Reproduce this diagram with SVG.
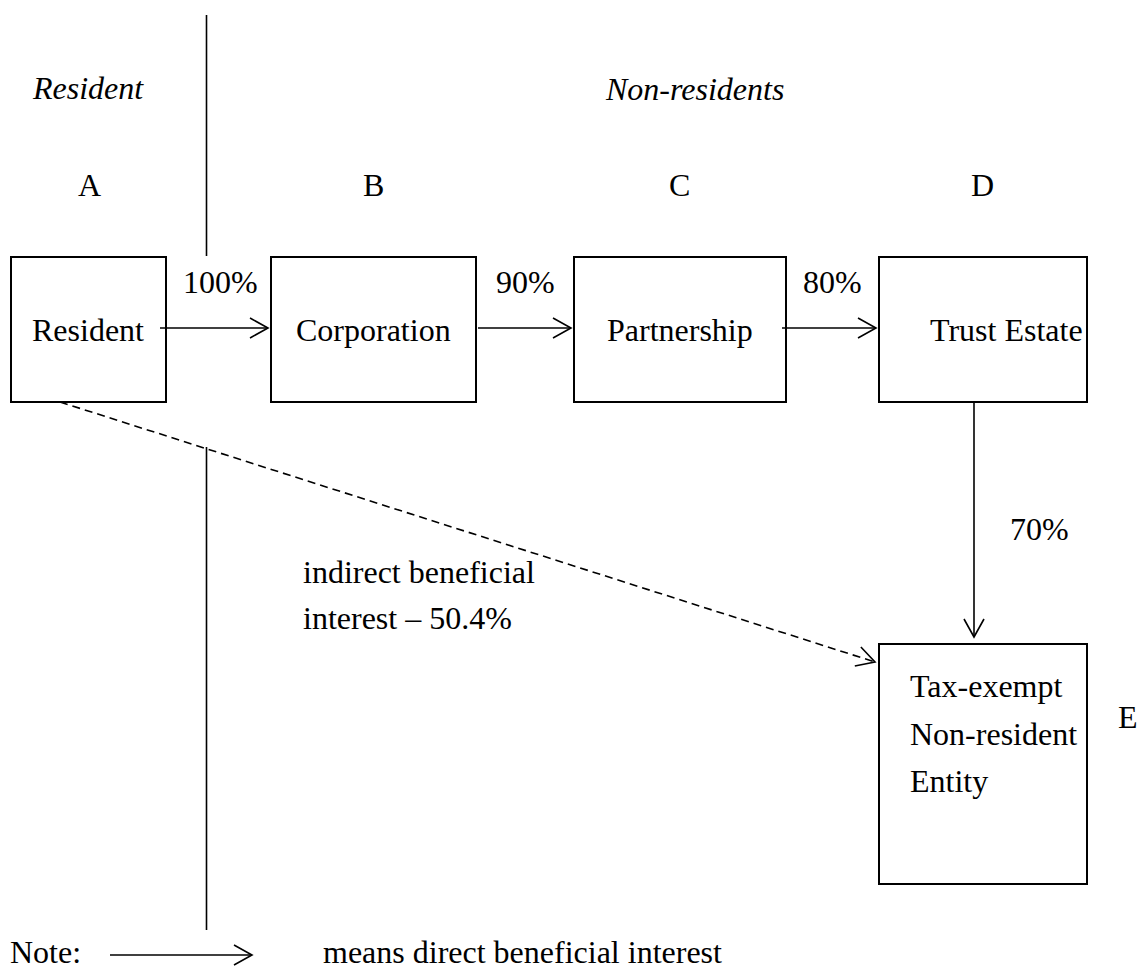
<svg xmlns="http://www.w3.org/2000/svg" width="1138" height="971" viewBox="0 0 1138 971">
<style>
text{font-family:"Liberation Serif","Times New Roman",serif;font-size:32px;fill:#000}
.it{font-style:italic}
.box{fill:#fff;stroke:#000;stroke-width:2}
.ln{stroke:#000;stroke-width:1.6;fill:none}
.dash{stroke-dasharray:8 5}
</style>
<defs>
<marker id="ah" viewBox="-20 -12 22 24" refX="0" refY="0" markerWidth="22" markerHeight="24" markerUnits="userSpaceOnUse" orient="auto">
<path d="M-18,-10 L0,0 L-18,10" fill="none" stroke="#000" stroke-width="1.6" stroke-dasharray="none"/>
</marker>
</defs>
<rect width="1138" height="971" fill="#fff"/>
<g id="labels">
<text class="it" x="33" y="99">Resident</text>
<text class="it" x="606" y="100">Non-residents</text>
<text x="78" y="196">A</text>
<text x="363" y="196">B</text>
<text x="669" y="196">C</text>
<text x="971" y="196">D</text>
<text x="1118" y="728">E</text>
<text x="303" y="583">indirect beneficial</text>
<text x="303" y="629">interest – 50.4%</text>
<text x="183" y="293">100%</text>
<text x="496" y="293">90%</text>
<text x="803" y="293">80%</text>
<text x="1010" y="540">70%</text>
</g>
<g id="divider">
<line class="ln" x1="206.5" y1="15" x2="206.5" y2="256"/>
<line class="ln" x1="206.5" y1="447" x2="206.5" y2="930"/>
</g>
<g id="nodeA"><rect class="box" x="11" y="257" width="155" height="145"/><text x="32" y="341">Resident</text></g>
<g id="nodeB"><rect class="box" x="271" y="257" width="205" height="145"/><text x="296" y="341">Corporation</text></g>
<g id="nodeC"><rect class="box" x="574" y="257" width="212" height="145"/><text x="607" y="341">Partnership</text></g>
<g id="nodeD"><rect class="box" x="879" y="257" width="208" height="145"/><text x="930" y="341">Trust Estate</text></g>
<g id="nodeE"><rect class="box" x="879" y="644" width="208" height="240"/>
<text x="910" y="697">Tax-exempt</text>
<text x="910" y="745">Non-resident</text>
<text x="910" y="792">Entity</text></g>
<g id="connectors">
<line class="ln" x1="160" y1="328" x2="268" y2="328" marker-end="url(#ah)"/>
<line class="ln" x1="478" y1="328" x2="571" y2="328" marker-end="url(#ah)"/>
<line class="ln" x1="782" y1="328" x2="876" y2="328" marker-end="url(#ah)"/>
<line class="ln" x1="974" y1="402" x2="974" y2="637" marker-end="url(#ah)"/>
<line class="ln dash" x1="60" y1="402" x2="875" y2="662" marker-end="url(#ah)"/>
</g>
<g id="note">
<text x="10" y="963">Note:</text>
<line class="ln" x1="110" y1="955" x2="252" y2="955" marker-end="url(#ah)"/>
<text x="323" y="963">means direct beneficial interest</text>
</g>
</svg>
